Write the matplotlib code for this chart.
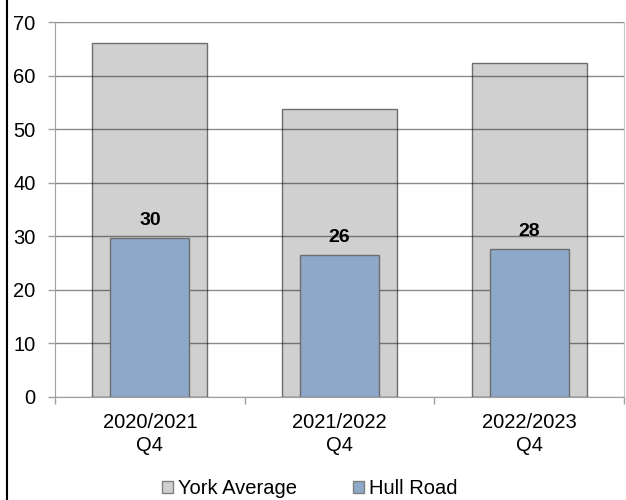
import matplotlib
matplotlib.use("Agg")
import matplotlib.pyplot as plt
from matplotlib.patches import Patch
from matplotlib.lines import Line2D
import numpy as np

categories = ["2020/2021\nQ4", "2021/2022\nQ4", "2022/2023\nQ4"]
york_average = [66.1, 53.7, 62.4]
hull_road = [29.6, 26.4, 27.6]
hull_labels = ["30", "26", "28"]
y_ticks = [0, 10, 20, 30, 40, 50, 60, 70]

plt.rcParams['font.family'] = ['Liberation Sans', 'DejaVu Sans']

fig = plt.figure(figsize=(6.26, 5.0), dpi=100)
ax = fig.add_axes([55/626, 1-396.7/500, (624-55)/626, (396.7-22)/500])

x = np.arange(len(categories))
grey = '#D0D0D0'
blue = '#8DA8C8'
edge = '#6E6E6E'

ax.bar(x, york_average, width=0.605, color=grey, edgecolor=edge, linewidth=1.0, zorder=2)
ax.bar(x, hull_road, width=0.416, color=blue, edgecolor=edge, linewidth=1.0, zorder=3)

for xi, v, lab in zip(x, hull_road, hull_labels):
    ax.annotate(lab, (xi, v), xytext=(0, 9.5), textcoords='offset points',
                ha='center', va='baseline', fontsize=14, fontweight='bold', zorder=5)

ax.set_xlim(-0.5, 2.5)
ax.set_ylim(0, 70)
ax.set_yticks(y_ticks)
ax.yaxis.grid(True, color='black', alpha=0.45, linewidth=1.0, zorder=4)
ax.set_axisbelow(False)

ax.set_xticks([-0.5, 0.5, 1.5, 2.5])
ax.set_xticklabels([])
ax.set_xticks(x, minor=True)
ax.set_xticklabels(categories, minor=True, fontsize=14.5, linespacing=1.25)
ax.tick_params(axis='x', which='minor', length=0, pad=12)
ax.tick_params(axis='x', which='major', length=5, color='#A0A0A0', width=1)
ax.tick_params(axis='y', length=5, color='#A0A0A0', width=1, labelsize=14.5, pad=9)

for s in ['left', 'bottom']:
    ax.spines[s].set_color('#A0A0A0')
    ax.spines[s].set_zorder(6)
ax.spines['right'].set_color('#C8C8C8')
ax.spines['top'].set_visible(False)

handles = [Patch(facecolor=grey, edgecolor='#808080', label='York Average'),
           Patch(facecolor=blue, edgecolor='#808080', label='Hull Road')]
fig.legend(handles=handles, loc='center', bbox_to_anchor=(0.495, 1-489/500), ncol=2,
           frameon=False, fontsize=14.5, handlelength=0.55, handleheight=0.55,
           handletextpad=0.25, columnspacing=2.8)

fig.add_artist(Line2D([7/626, 7/626], [0, 1], transform=fig.transFigure, color='black', linewidth=1.5))

fig.savefig('out.png', dpi=100)
